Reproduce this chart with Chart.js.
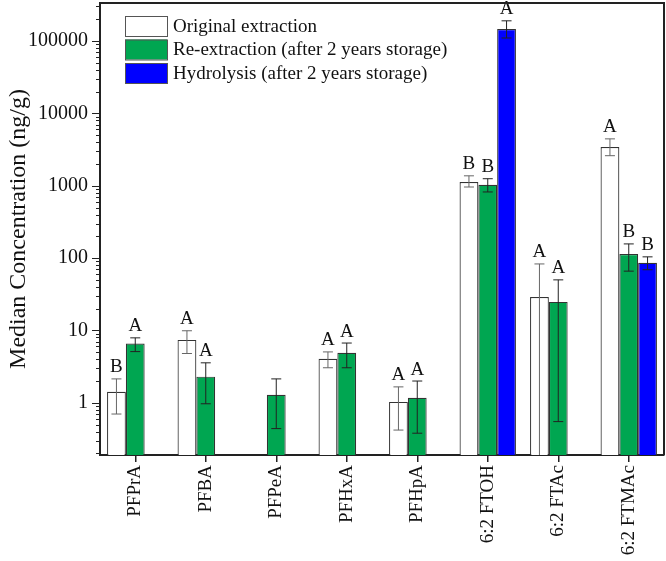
<!DOCTYPE html>
<html>
<head>
<meta charset="utf-8">
<script src="https://cdn.jsdelivr.net/npm/chart.js@4/dist/chart.umd.min.js"></script>
<style>
  html, body { margin: 0; padding: 0; background: #fff; }
  #wrap { width: 666px; height: 561px; }
</style>
</head>
<body>
<div id="wrap"><canvas id="c" width="666" height="561"></canvas></div>
<script>
const categories = ['PFPrA', 'PFBA', 'PFPeA', 'PFHxA', 'PFHpA', '6:2 FTOH', '6:2 FTAc', '6:2 FTMAc'];
const seriesNames = ['Original extraction', 'Re-extraction (after 2 years storage)', 'Hydrolysis (after 2 years storage)'];

const originalValues  = [1.42, 7.4, null, 4.05, 1.03, 1125, 29, 3430];
const originalLow     = [0.70, 4.8, null, 3.05, 0.42, 960, 0.05, 2600];
const originalHigh    = [2.14, 9.9, null, 5.05, 1.66, 1370, 83, 4440];
const originalLetters = ['B', 'A', null, 'A', 'A', 'B', 'A', 'A'];

const reextValues  = [6.6, 2.3, 1.29, 4.9, 1.17, 1030, 24.8, 114];
const reextLow     = [5.1, 0.97, 0.44, 3.05, 0.38, 820, 0.55, 66];
const reextHigh    = [7.9, 3.57, 2.14, 6.7, 2.0, 1250, 50, 157];
const reextLetters = ['A', 'A', null, 'A', 'A', 'B', 'A', 'B'];

const hydroValues  = [null, null, null, null, null, 146000, null, 86];
const hydroLow     = [null, null, null, null, null, 110000, null, 69];
const hydroHigh    = [null, null, null, null, null, 190000, null, 104];
const hydroLetters = [null, null, null, null, null, 'A', null, 'B'];

const yTickValues = [1, 10, 100, 1000, 10000, 100000];

const SERIF = '"Liberation Serif", "Times New Roman", serif';
const colors = ['#ffffff', '#00a651', '#0000ff'];
const errLow = [originalLow, reextLow, hydroLow];
const errHigh = [originalHigh, reextHigh, hydroHigh];
const letters = [originalLetters, reextLetters, hydroLetters];

const extrasPlugin = {
  id: 'extras',
  afterDatasetsDraw(chart) {
    const ctx = chart.ctx;
    const y = chart.scales.y;
    const area = chart.chartArea;
    ctx.save();
    ctx.beginPath();
    ctx.rect(area.left, area.top - 1, area.right - area.left, area.bottom - area.top + 1);
    ctx.clip();
    chart.data.datasets.forEach((ds, di) => {
      const meta = chart.getDatasetMeta(di);
      meta.data.forEach((bar, i) => {
        if (ds.data[i] == null) return;
        const lo = errLow[di][i], hi = errHigh[di][i];
        const x = bar.x;
        const yLo = y.getPixelForValue(Math.max(lo, y.min / 10));
        const yHi = y.getPixelForValue(hi);
        ctx.strokeStyle = di === 0 ? '#666' : '#222';
        ctx.lineWidth = 1;
        ctx.beginPath();
        ctx.moveTo(x, yLo); ctx.lineTo(x, yHi);
        ctx.moveTo(x - 5, yHi); ctx.lineTo(x + 5, yHi);
        if (lo >= y.min) { ctx.moveTo(x - 5, yLo); ctx.lineTo(x + 5, yLo); }
        ctx.stroke();
      });
    });
    ctx.restore();
    // letters
    ctx.save();
    ctx.fillStyle = '#111';
    ctx.font = '19px ' + SERIF;
    ctx.textAlign = 'center';
    ctx.textBaseline = 'bottom';
    chart.data.datasets.forEach((ds, di) => {
      const meta = chart.getDatasetMeta(di);
      meta.data.forEach((bar, i) => {
        const L = letters[di][i];
        if (!L || ds.data[i] == null) return;
        const yHi = y.getPixelForValue(errHigh[di][i]);
        ctx.fillText(L, bar.x, yHi - 2);
      });
    });
    ctx.restore();
  },
  afterDraw(chart) {
    const ctx = chart.ctx;
    const y = chart.scales.y;
    const area = chart.chartArea;
    ctx.save();
    // y-axis ticks (outward)
    ctx.strokeStyle = '#222';
    ctx.lineWidth = 1;
    ctx.beginPath();
    const minExp = Math.floor(Math.log10(y.min));
    const maxExp = Math.ceil(Math.log10(y.max));
    for (let e = minExp; e <= maxExp; e++) {
      for (let m = 1; m <= 9; m++) {
        const v = m * Math.pow(10, e);
        if (v < y.min * 0.999 || v > y.max * 1.001) continue;
        const py = Math.round(y.getPixelForValue(v)) + 0.5;
        const len = m === 1 ? 8 : 4;
        ctx.moveTo(area.left - len, py);
        ctx.lineTo(area.left, py);
      }
    }
    ctx.stroke();
    // frame
    ctx.strokeStyle = '#222';
    ctx.lineWidth = 2;
    ctx.beginPath();
    ctx.moveTo(area.left, area.top);
    ctx.lineTo(area.right, area.top);
    ctx.lineTo(area.right, area.bottom);
    ctx.stroke();
    // legend
    ctx.font = '19px ' + SERIF;
    ctx.textBaseline = 'middle';
    ctx.textAlign = 'left';
    const lx = area.left + 25, ly0 = area.top + 13, bw = 42, bh = 20, step = 23.5;
    chart.data.datasets.forEach((ds, di) => {
      const by = ly0 + di * step;
      ctx.fillStyle = ds.backgroundColor;
      ctx.fillRect(lx, by, bw, bh);
      ctx.strokeStyle = '#555';
      ctx.lineWidth = 1;
      ctx.strokeRect(lx + 0.5, by + 0.5, bw, bh);
      ctx.fillStyle = '#111';
      ctx.fillText(ds.label, lx + bw + 6, by + bh / 2 + 1);
    });
    ctx.restore();
  }
};

const datasets = [originalValues, reextValues, hydroValues].map((vals, i) => ({
  label: seriesNames[i],
  data: vals,
  backgroundColor: colors[i],
  borderColor: '#333',
  borderWidth: 1.2,
  borderSkipped: 'bottom',
  barPercentage: 1.0,
  categoryPercentage: 0.8
}));

new Chart(document.getElementById('c'), {
  type: 'bar',
  data: { labels: categories, datasets },
  options: {
    responsive: false,
    animation: false,
    layout: { padding: { top: 3, right: 2, left: 0, bottom: 0 } },
    plugins: { legend: { display: false }, tooltip: { enabled: false } },
    scales: {
      x: {
        offset: true,
        grid: { display: true, offset: false, drawOnChartArea: false, drawTicks: true, tickLength: 7, color: '#222', lineWidth: 1.5 },
        border: { display: true, color: '#222', width: 2 },
        ticks: { color: '#111', font: { family: SERIF, size: 19 }, minRotation: 90, maxRotation: 90, autoSkip: false, padding: 3 },
        afterFit(scale) { scale.height = 106; scale.paddingLeft = 0; scale.paddingRight = 0; }
      },
      y: {
        type: 'logarithmic',
        min: 0.19,
        max: 335000,
        grid: { display: false },
        border: { display: true, color: '#222', width: 2 },
        afterBuildTicks(scale) { scale.ticks = yTickValues.map(v => ({ value: v, major: true })); },
        ticks: {
          color: '#111',
          font: { family: SERIF, size: 20 },
          padding: 4,
          callback: (v) => String(v)
        },
        title: { display: true, text: 'Median Concentration (ng/g)', color: '#111', font: { family: SERIF, size: 24 }, padding: { top: 4, bottom: 0 } },
        afterFit(scale) { scale.width = 100; scale.paddingTop = 0; scale.paddingBottom = 0; }
      }
    }
  },
  plugins: [extrasPlugin]
});
</script>
</body>
</html>
